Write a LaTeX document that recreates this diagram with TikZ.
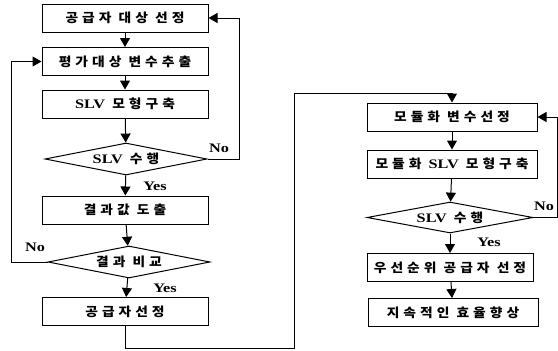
\documentclass[tikz,border=0pt]{standalone}
\usepackage{fontspec}
\setmainfont[FakeStretch=1.25]{Liberation Serif}
\newfontfamily\kr[LetterSpace=32,FakeStretch=1.1]{Noto Sans CJK KR}
\usepackage{tikz}
\usetikzlibrary{arrows.meta, positioning, shapes.geometric}
\newcommand{\lat}[1]{{\rmfamily\bfseries\fontsize{13}{15}\selectfont #1}}

\begin{document}
\begin{tikzpicture}[
    x=1pt, y=-1pt,
    box/.style  = {draw, line width=1pt, minimum width=166pt, minimum height=28pt,
                   inner sep=0pt, font=\kr\bfseries\fontsize{12.5}{14}\selectfont},
    rbox/.style = {box, minimum width=170pt},
    cond/.style = {draw, line width=1pt, shape=diamond, aspect=5, inner sep=0pt,
                   minimum width=162pt, minimum height=32pt,
                   font=\kr\bfseries\fontsize{12.5}{14}\selectfont},
    lbl/.style  = {font=\rmfamily\bfseries\fontsize{13}{15}\selectfont, inner sep=0pt},
    arr/.style  = {-{Triangle[width=10pt, length=9pt]}, line width=1pt},
  ]
    \useasboundingbox (0,0) rectangle (558,351);

    %% ── Left column ─────────────────────────────────────────────────────────
    \node[box]  (pick)    at (125, 18)   {공급자 대상 선정};
    \node[box]  (vars)    at (125, 61.5) {평가대상 변수추출};
    \node[box]  (model)   at (125, 104)  {\lat{SLV} 모형구축};
    \node[cond] (run)     at (126, 159)  {\lat{SLV} 수행};
    \node[box]  (result)  at (125, 210)  {결과값 도출};
    \node[cond] (compare) at (129, 262)  {결과 비교};
    \node[box]  (select)  at (125, 311.5){공급자선정};

    \draw[arr] (pick)    -- (vars);
    \draw[arr] (vars)    -- (model);
    \draw[arr] (model)   -- (run);
    \draw[arr] (run)     -- (result);
    \draw[arr] (result)  -- (compare);
    \draw[arr] (compare) -- (select);

    %% No loops back up
    \draw[arr] (run.east)     -- ++(32,0)  |- (pick.east);
    \draw[arr] (compare.west) -- ++(-36,0) |- (vars.west);

    %% ── Right column ────────────────────────────────────────────────────────
    \node[rbox] (modvars)  at (452, 117)   {모듈화 변수선정};
    \node[rbox] (modmodel) at (452, 164)   {모듈화 \lat{SLV} 모형구축};
    \node[cond, minimum width=166pt, minimum height=31pt]
                (modrun)   at (450, 217.5) {\lat{SLV} 수행};
    \node[box]  (prio)     at (450, 267.5) {우선순위 공급자 선정};
    \node[rbox] (improve)  at (453, 312.5) {지속적인 효율향상};

    \draw[arr] (modvars)  -- (modmodel);
    \draw[arr] (modmodel) -- (modrun);
    \draw[arr] (modrun)   -- (prio);
    \draw[arr] (prio)     -- (improve);

    %% Left column hands over to the right column
    \coordinate (lowturn) at (294, 348);
    \coordinate (hiturn)  at (294, 93);
    \draw[arr] (select.south) |- (lowturn) -- (hiturn) -| (modvars.north);

    %% No loop on the right runs along the edge
    \coordinate (edge) at (557.5, 217.5);
    \draw[arr] (modrun.east) -- (edge) |- (modvars.east);

    %% ── Labels ──────────────────────────────────────────────────────────────
    \node[lbl] (no1)  at (219, 148) {No};
    \node[lbl] (no2)  at (35, 247)  {No};
    \node[lbl] (no3)  at (544, 206) {No};
    \node[lbl] (yes1) at (155, 186) {Yes};
    \node[lbl] (yes2) at (165, 288) {Yes};
    \node[lbl] (yes3) at (489, 242) {Yes};

  \end{tikzpicture}
\end{document}
